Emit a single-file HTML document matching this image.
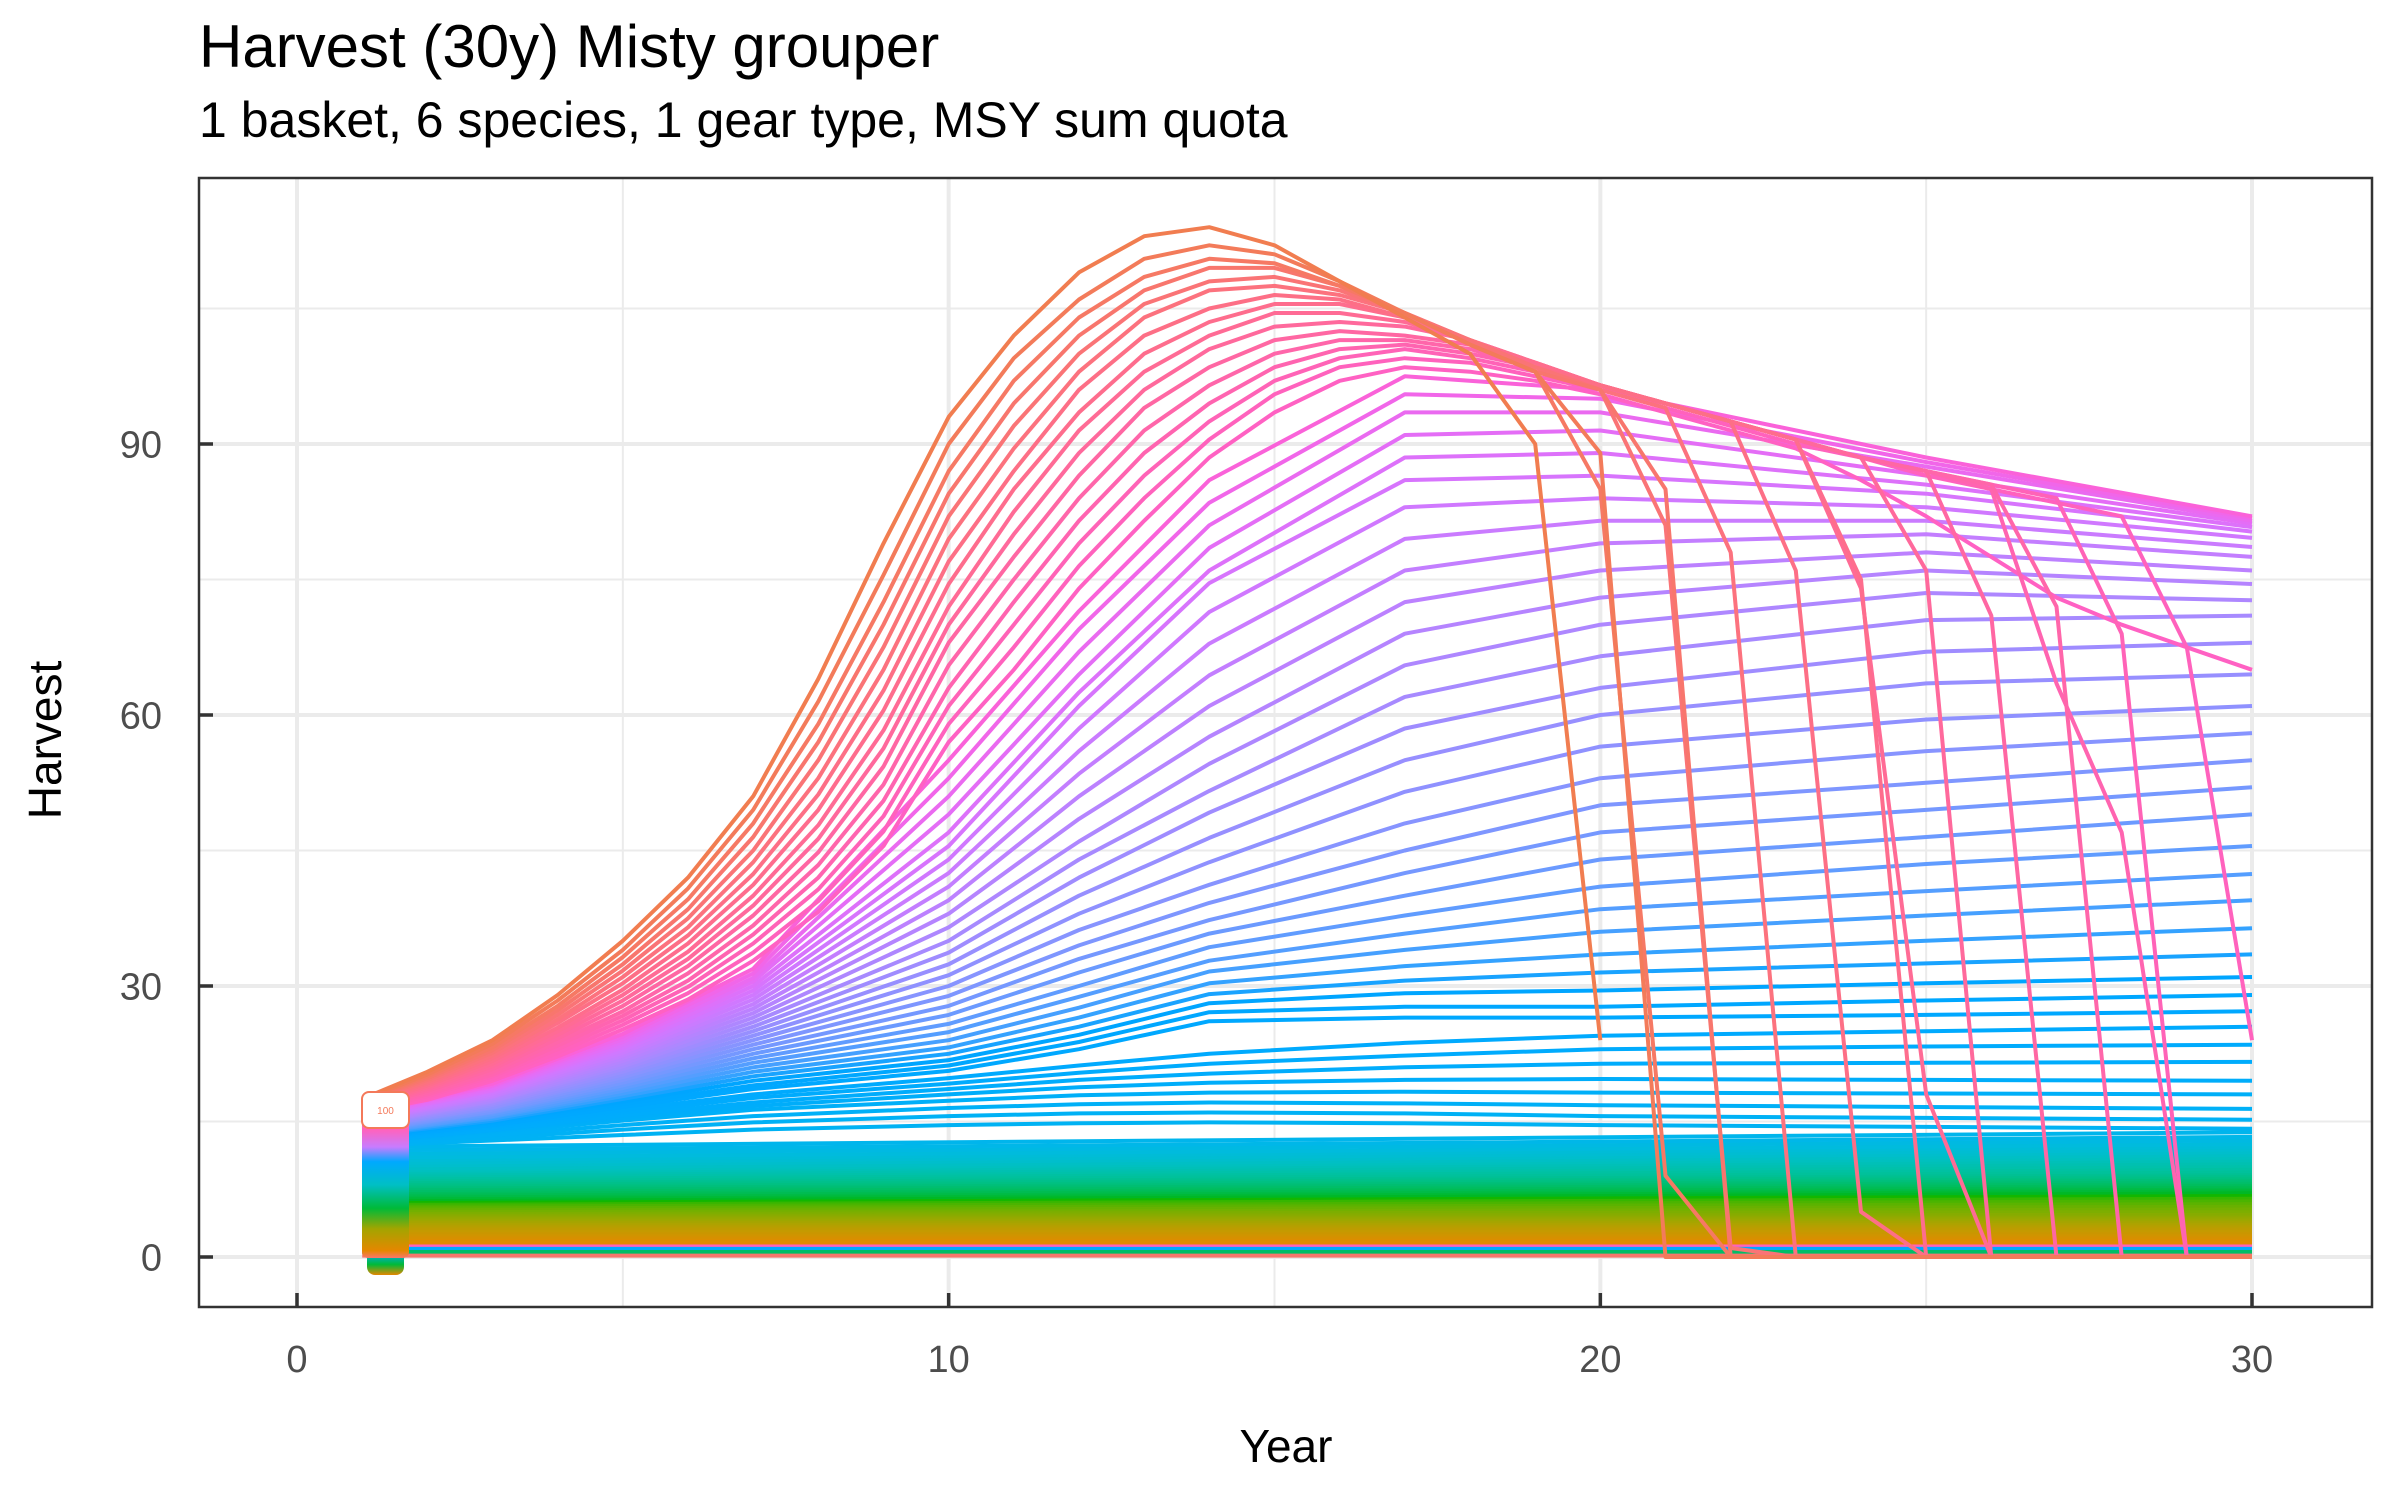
<!DOCTYPE html>
<html>
<head>
<meta charset="utf-8">
<style>
  html, body { margin: 0; padding: 0; background: #ffffff; }
  body { width: 2400px; height: 1500px; overflow: hidden; font-family: "Liberation Sans", Arial, sans-serif; }
  svg text { font-family: "Liberation Sans", Arial, sans-serif; }
</style>
</head>
<body>
<svg id="chart" width="2400" height="1500" viewBox="0 0 2400 1500" xmlns="http://www.w3.org/2000/svg">
  <defs>
    <linearGradient id="labelGrad" x1="0" y1="0" x2="0" y2="1">
      <stop offset="0" stop-color="#FF6C90"/>
      <stop offset="0.12" stop-color="#FF62BC"/>
      <stop offset="0.24" stop-color="#C77CFF"/>
      <stop offset="0.34" stop-color="#00A9FF"/>
      <stop offset="0.5" stop-color="#00BFC4"/>
      <stop offset="0.66" stop-color="#00BA38"/>
      <stop offset="0.8" stop-color="#A3A500"/>
      <stop offset="0.95" stop-color="#E58700"/>
      <stop offset="1" stop-color="#F8766D"/>
    </linearGradient>
    <linearGradient id="capGrad" x1="0" y1="0" x2="0" y2="1">
      <stop offset="0" stop-color="#FF62BC"/>
      <stop offset="0.35" stop-color="#00A9FF"/>
      <stop offset="0.7" stop-color="#00BA38"/>
      <stop offset="1" stop-color="#E58700"/>
    </linearGradient>
    <clipPath id="panelClip"><rect x="199" y="178" width="2173" height="1129"/></clipPath>
  </defs>

  <text x="199" y="67" font-size="60" fill="#000">Harvest (30y) Misty grouper</text>
  <text x="199" y="137" font-size="50" fill="#000">1 basket, 6 species, 1 gear type, MSY sum quota</text>

  <g id="grid"></g>
  <g id="series" clip-path="url(#panelClip)"></g>
  <g id="labels">
    <rect x="367" y="1240" width="37" height="35" rx="8" fill="url(#capGrad)"/>
    <rect x="362" y="1112" width="47" height="146" rx="6" fill="url(#labelGrad)"/>
    <rect x="362" y="1092" width="47" height="36" rx="7" fill="#ffffff" stroke="#F4795A" stroke-width="2"/>
    <text x="385.5" y="1114" font-size="10" fill="#F4795A" text-anchor="middle">100</text>
  </g>
  <rect x="199" y="178" width="2173" height="1129" fill="none" stroke="#333333" stroke-width="2.5"/>
  <g id="axes"></g>

  <text x="1286" y="1462" font-size="46" fill="#000" text-anchor="middle">Year</text>
  <text x="0" y="0" font-size="46" fill="#000" text-anchor="middle" transform="translate(61,740) rotate(-90)">Harvest</text>
</svg>

<script>
// ---------------- data ----------------
const years = [1,2,3,4,5,6,7,8,9,10,11,12,13,14,15,16,17,18,19,20,21,22,23,24,25,26,27,28,29,30];
const xTicks = [0, 10, 20, 30];
const xTickLabels = ["0", "10", "20", "30"];
const yTicks = [0, 30, 60, 90];
const yTickLabels = ["0", "30", "60", "90"];
const xMinor = [5, 15, 25];
const yMinor = [15, 45, 75, 105];

// yearly series that collapse (top of fan)
const crashSeries = [
  [17.5,20.5,24,29,35,42,51,64,79,93,102,109,113,114,112,108,104,100,90,24],
  [17.4,20.2,23.6,28.4,34,40.8,49.5,61.5,75.5,90,99.5,106,110.5,112,111,108,104.5,101,98,89,0,0,0,0,0,0,0,0,0,0],
  [17.3,20,23.2,27.8,33.2,39.6,48,59,72.5,87,97,104,108.5,110.5,110,107.5,104.5,101,98,85,9,0,0,0,0,0,0,0,0,0],
  [17.2,19.8,22.9,27.3,32.4,38.5,46.5,57,70,84.5,94.5,102,107,109.5,109.5,107.5,104.5,101,98,96,85,0,0,0,0,0,0,0,0,0],
  [17.1,19.6,22.6,26.8,31.7,37.5,45,55,67.5,82,92,100,105.5,108,108.5,107,104.5,101.5,98.5,96,81,1,0,0,0,0,0,0,0,0],
  [17,19.4,22.3,26.3,31,36.5,43.7,53,65,79.5,89.5,98,104,107,107.5,106.5,104.5,101.5,98.5,96,94,78,0,0,0,0,0,0,0,0],
  [16.9,19.2,22,25.9,30.3,35.6,42.4,51.2,62.7,77,87,96,102,105,106.5,106,104,101.5,98.5,96.5,94.5,92.5,76,5,0,0,0,0,0,0],
  [16.8,19,21.7,25.4,29.6,34.7,41.2,49.5,60.5,74.5,85,93.5,100,103.5,105.5,105.5,104,101.5,99,96.5,94.5,92.5,90.5,75,0,0,0,0,0,0],
  [16.7,18.8,21.4,25,29,33.8,40,47.8,58.3,72,82.5,91.5,98,102,104.5,104.5,103.5,101.5,99,96.5,94.5,92.5,90.5,74,18,0,0,0,0,0],
  [16.6,18.6,21.1,24.6,28.4,33,38.9,46.3,56.3,70,80,89,96,100.5,103,103.5,103,101.5,99,96.5,94.5,92.5,90.5,88.5,76,0,0,0,0,0],
  [16.5,18.4,20.8,24.2,27.8,32.2,37.8,44.8,54.3,68,77.5,86.5,94,98.5,101.5,102.5,102,101,99,96.5,94.5,92.5,90.5,88.5,87,71,0,0,0,0],
  [16.4,18.2,20.5,23.8,27.2,31.4,36.7,43.4,52.3,65.5,75,84,91.5,96.5,100,101.5,101.5,100.5,98.5,96.5,94.5,92.5,90.5,88.5,87,85.5,72,0,0,0],
  [16.3,18,20.2,23.4,26.7,30.6,35.7,42,50.5,63,72.5,81.5,89,94.5,98.5,100.5,101,100,98.5,96.5,94.5,92.5,90.5,88.5,87,85,63.5,47,0,0],
  [16.2,17.8,20,23,26.2,29.9,34.7,40.7,48.8,61,70,79,86.5,92.5,97,99.5,100.5,99.5,98,96.5,94.5,92.5,90.5,88.5,87,85.5,84,69,0,0],
  [16.1,17.6,19.7,22.6,25.7,29.2,33.7,39.4,47.1,59,67.5,76.5,84,90.5,95.5,98.5,99.5,99,97.5,96,94,92,90,88.5,86.5,85,83.5,82,67.5,24],
  [16,17.4,19.5,22.2,25.2,28.5,32.8,38.2,45.5,57,65,74,81.5,88.5,93.5,97,98.5,98,97,95.5,93.5,91.5,89.5,86,82,77.5,73,70,67.5,65]
];

// series sampled at anchor years (peaking then rising fan)
const anchorYears = [1,3,5,7,10,12,14,17,20,25,30];
const fanSeries = [
  [15.9,19.2,24.7,31.9,55,71.5,86,97.5,96,88.5,82],
  [15.8,19.0,24.4,31.4,53,69.5,83.5,95.5,95,88,81.8],
  [15.7,18.9,24.1,30.9,51,67,81,93.5,93.5,87.5,81.5],
  [15.6,18.7,23.8,30.5,49,64.5,78.5,91,91.5,86.5,81.2],
  [15.5,18.5,23.5,30,47,62.5,76,88.5,89,85.5,80.8],
  [15.4,18.4,23.2,29.5,45.5,61,74.6,86,86.5,84.5,80.3],
  [15.2,18.2,22.9,29,44,58.5,71.4,83,84,83,79.6],
  [15.1,18.0,22.6,28.5,42.5,56,67.9,79.5,81.5,81.5,78.6],
  [15,17.8,22.3,28,41,53.5,64.4,76,79,80,77.5],
  [14.9,17.7,22,27.5,39.5,51,61,72.5,76,78,76],
  [14.8,17.5,21.7,27,38,48.5,57.6,69,73,76,74.5],
  [14.7,17.3,21.4,26.5,36.5,46,54.6,65.5,70,73.5,72.7],
  [14.6,17.2,21.1,26,35,44,51.6,62,66.5,70.5,71],
  [14.5,17,20.8,25.5,33.7,42,49.2,58.5,63,67,68],
  [14.4,16.8,20.5,25,32.4,40,46.4,55,60,63.5,64.5],
  [14.3,16.6,20.2,24.5,31.2,38,43.7,51.5,56.5,59.5,61],
  [14.2,16.5,19.9,24,30,36.2,41.2,48,53,56,58],
  [14.1,16.3,19.6,23.5,28.9,34.5,39.2,45,50,52.5,55],
  [14,16.1,19.3,23,27.8,33,37.3,42.5,47,49.5,52],
  [13.9,16,19,22.5,26.8,31.5,35.8,40,44,46.5,49],
  [13.8,15.8,18.7,22,25.8,30,34.3,37.8,41,43.5,45.5],
  [13.7,15.6,18.4,21.5,24.9,28.8,32.8,35.8,38.5,40.5,42.4],
  [13.6,15.5,18.1,21,24,27.6,31.6,34,36,37.8,39.5],
  [13.5,15.3,17.8,20.5,23.2,26.5,30.3,32.2,33.5,35,36.4],
  [13.4,15.1,17.5,20,22.5,25.5,29.1,30.6,31.5,32.5,33.5],
  [13.3,15,17.2,19.5,21.8,24.6,28.1,29.2,29.5,30.3,31],
  [13.2,14.8,16.9,19,21.2,23.8,27.1,27.7,27.7,28.4,29],
  [13.1,14.6,16.6,18.6,20.6,23,26.1,26.5,26.5,26.8,27.2],
  [13,14.5,16.3,18,19.8,21.2,22.5,23.7,24.5,25,25.5],
  [12.9,14.3,16,17.6,19.2,20.4,21.4,22.3,23,23.3,23.5],
  [12.8,14.1,15.7,17.1,18.6,19.6,20.3,21,21.4,21.5,21.6],
  [12.7,14,15.4,16.7,18,18.8,19.3,19.6,19.7,19.6,19.5],
  [12.6,13.8,15.1,16.3,17.3,17.9,18.2,18.3,18.2,18.1,18],
  [12.5,13.5,14.6,15.6,16.5,16.9,17.1,17,16.8,16.6,16.4],
  [12.4,13.2,14.1,14.9,15.6,15.9,16,15.9,15.6,15.4,15.2],
  [12.3,12.9,13.5,14.1,14.6,14.8,14.9,14.8,14.6,14.4,14.2]
];

// near-flat series: value at year 1 and at year 30
const flatStart = [12.2,11.8,11.4,11,10.7,10.4,10.1,9.8,9.6,9.4,9.2,9,8.8,8.6,8.4,8.2,8,7.8,7.6,7.4,7.2,7,6.8,6.6,6.4,6.2,6,5.8,5.6,5.4,5.2,5,4.8,4.6,4.4,4.2,4,3.8,3.6,3.4,3.2,3,2.8,2.6,2.4,2.2,2,1.8,1.6];
const flatEnd = [13.8,13.3,12.9,12.5,12.2,11.9,11.6,11.3,11,10.7,10.4,10.1,9.8,9.5,9.3,9.1,8.9,8.7,8.5,8.3,8.1,7.9,7.7,7.5,7.2,6.9,6.6,6.3,6,5.7,5.4,5.1,4.8,4.6,4.4,4.2,4,3.8,3.6,3.4,3.2,3,2.8,2.6,2.4,2.2,2,1.8,1.6];
const baseLevels = [1.3, 0.9, 0.55, 0.15];

// ---------------- scales ----------------
const X0 = 297, X30 = 2252, Y0 = 1257, Y90 = 444;
function xs(v) { return X0 + v * (X30 - X0) / 30; }
function ys(v) { return Y0 - v * (Y0 - Y90) / 90; }

// ggplot-like hue colour (HCL, L=65, C=100)
function hcl(h) {
  h = ((h % 360) + 360) % 360;
  const L = 65, C = 100, hr = h * Math.PI / 180;
  const U = C * Math.cos(hr), V = C * Math.sin(hr);
  const Y = Math.pow((L + 16) / 116, 3);
  const un = 0.19783, vn = 0.46832;
  const u = U / (13 * L) + un, v = V / (13 * L) + vn;
  const X = 9 * Y * u / (4 * v);
  const Z = Y * (12 - 3 * u - 20 * v) / (4 * v);
  let r = 3.240479 * X - 1.53715 * Y - 0.498535 * Z;
  let g = -0.969256 * X + 1.875992 * Y + 0.041556 * Z;
  let b = 0.055648 * X - 0.204043 * Y + 1.057311 * Z;
  function gam(c) { c = c <= 0.0031308 ? 12.92 * c : 1.055 * Math.pow(c, 1 / 2.4) - 0.055; return Math.round(Math.max(0, Math.min(1, c)) * 255); }
  return "rgb(" + gam(r) + "," + gam(g) + "," + gam(b) + ")";
}

const NS = "http://www.w3.org/2000/svg";
const gridG = document.getElementById("grid");
const seriesG = document.getElementById("series");
const axesG = document.getElementById("axes");

// grid
xMinor.forEach(function (v) {
  const l = document.createElementNS(NS, "line");
  
  
  l.setAttribute("x1", xs(v)); l.setAttribute("x2", xs(v)); l.setAttribute("y1", 178); l.setAttribute("y2", 1307);
  l.setAttribute("stroke", "#EBEBEB"); l.setAttribute("stroke-width", 2);
  gridG.appendChild(l);
});
yMinor.forEach(function (v) {
  const l = document.createElementNS(NS, "line");
  
  
  l.setAttribute("x1", 199); l.setAttribute("x2", 2372); l.setAttribute("y1", ys(v)); l.setAttribute("y2", ys(v));
  l.setAttribute("stroke", "#EBEBEB"); l.setAttribute("stroke-width", 2);
  gridG.appendChild(l);
});
xTicks.forEach(function (v, i) {
  const l = document.createElementNS(NS, "line");
  
  
  l.setAttribute("x1", xs(v)); l.setAttribute("x2", xs(v)); l.setAttribute("y1", 178); l.setAttribute("y2", 1307);
  l.setAttribute("stroke", "#EBEBEB"); l.setAttribute("stroke-width", 4);
  gridG.appendChild(l);
  const t = document.createElementNS(NS, "line");
  
  
  t.setAttribute("x1", xs(v)); t.setAttribute("x2", xs(v)); t.setAttribute("y1", 1293); t.setAttribute("y2", 1307);
  t.setAttribute("stroke", "#333333"); t.setAttribute("stroke-width", 3.5);
  axesG.appendChild(t);
  const tx = document.createElementNS(NS, "text");
  
  
  tx.setAttribute("x", xs(v)); tx.setAttribute("y", 1372);
  tx.setAttribute("font-size", 38); tx.setAttribute("fill", "#4D4D4D"); tx.setAttribute("text-anchor", "middle");
  tx.textContent = xTickLabels[i];
  axesG.appendChild(tx);
});
yTicks.forEach(function (v, i) {
  const l = document.createElementNS(NS, "line");
  
  
  l.setAttribute("x1", 199); l.setAttribute("x2", 2372); l.setAttribute("y1", ys(v)); l.setAttribute("y2", ys(v));
  l.setAttribute("stroke", "#EBEBEB"); l.setAttribute("stroke-width", 4);
  gridG.appendChild(l);
  const t = document.createElementNS(NS, "line");
  
  
  t.setAttribute("x1", 199); t.setAttribute("x2", 213); t.setAttribute("y1", ys(v)); t.setAttribute("y2", ys(v));
  t.setAttribute("stroke", "#333333"); t.setAttribute("stroke-width", 3.5);
  axesG.appendChild(t);
  const tx = document.createElementNS(NS, "text");
  
  
  tx.setAttribute("x", 162); tx.setAttribute("y", ys(v) + 13.5);
  tx.setAttribute("font-size", 38); tx.setAttribute("fill", "#4D4D4D"); tx.setAttribute("text-anchor", "end");
  tx.textContent = yTickLabels[i];
  axesG.appendChild(tx);
});

function drawLine(pts, color, name) {
  const p = document.createElementNS(NS, "polyline");
  
  
  p.setAttribute("points", pts.map(function (q) { return xs(q[0]).toFixed(1) + "," + ys(q[1]).toFixed(1); }).join(" "));
  p.setAttribute("fill", "none");
  p.setAttribute("stroke", color);
  p.setAttribute("stroke-width", 4);
  p.setAttribute("stroke-linejoin", "round");
  seriesG.appendChild(p);
}
const baseColors = ["#FF62BC", "#00A9FF", "#00BE67", "#F8766D"];
baseLevels.forEach(function (v, i) {
  drawLine([[years[0], v], [years[years.length - 1], v]], baseColors[i], "baseline-series");
});
// flat lines: hue 222 (blue-cyan) down to 40 (orange)
for (let i = flatStart.length - 1; i >= 0; i--) {
  const h = 222 - 182 * i / (flatStart.length - 1);
  drawLine([[years[0], flatStart[i]], [years[years.length - 1], flatEnd[i]]], hcl(h), "flat-series");
}
// fan lines: hue 322 (magenta) down to 228 (blue)
for (let i = fanSeries.length - 1; i >= 0; i--) {
  const h = 322 - 94 * Math.pow(i / (fanSeries.length - 1), 0.6);
  drawLine(fanSeries[i].map(function (v, j) { return [anchorYears[j], v]; }), hcl(h), "fan-series");
}
// collapsing lines: hue 25 (orange) to 335 (pink)
for (let i = crashSeries.length - 1; i >= 0; i--) {
  const h = 385 - 50 * i / (crashSeries.length - 1);
  drawLine(crashSeries[i].map(function (v, j) { return [years[j], v]; }), hcl(h), "collapsing-series");
}
</script>
</body>
</html>
